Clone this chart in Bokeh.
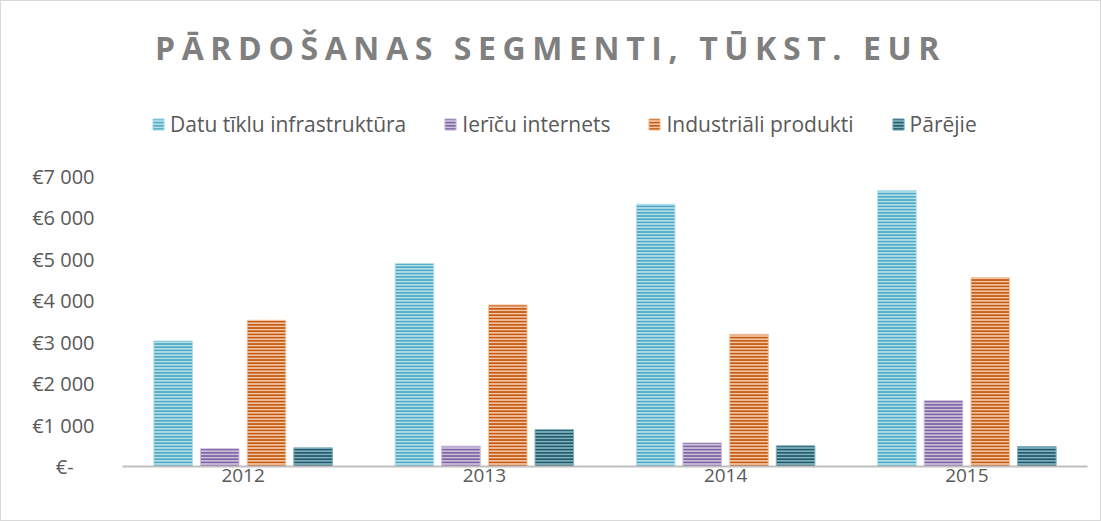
from bokeh.plotting import figure
from bokeh.models import ColumnDataSource, Legend, LegendItem, Div, CustomJSTickFormatter, Range1d, FactorRange
from bokeh.transform import dodge
from bokeh.layouts import column
from bokeh.embed import file_html
from bokeh.resources import INLINE

years = ["2012", "2013", "2014", "2015"]
datu = [3030, 4900, 6330, 6660]
ierices = [430, 490, 570, 1590]
industr = [3530, 3900, 3190, 4560]
parejie = [450, 890, 500, 480]
series_names = ["Datu tīklu infrastruktūra", "Ierīču internets", "Industriāli produkti", "Pārējie"]
y_ticks = [0, 1000, 2000, 3000, 4000, 5000, 6000, 7000]
title_text = "PĀRDOŠANAS SEGMENTI, TŪKST. EUR"

fills = ["#b4deea", "#cbbfdd", "#f5c4a0", "#7fb1bf"]
hatches = ["#48a8c2", "#7c609f", "#c0560f", "#1f5665"]

src = ColumnDataSource(dict(years=years, s0=datu, s1=ierices, s2=industr, s3=parejie))

FONT = "Open Sans"

div = Div(text='<div style="padding-top:27px;padding-left:30px;width:1069px;text-align:center;font-family:\'Open Sans\';'
               'font-weight:bold;font-size:32px;line-height:40px;color:#7f7f7f;letter-spacing:6.6px;">'
               + title_text + '</div>',
          width=1099, height=75, margin=0)

# frame spans from just under the title to the axis; the 0..7000 part fills the lower 290 px
p = figure(x_range=FactorRange(*years), y_range=Range1d(0, 9172),
           width=1099, height=444, output_backend="svg", toolbar_location=None,
           min_border_left=121, min_border_right=13, min_border_top=10, min_border_bottom=54,
           margin=0)

offsets = [-0.29, -0.097, 0.097, 0.29]
renderers = []
for i, off in enumerate(offsets):
    r = p.vbar(x=dodge("years", off, range=p.x_range), top="s%d" % i, width=0.16, source=src,
               fill_color=fills[i], line_color=fills[i], line_width=1,
               hatch_pattern="horizontal_line", hatch_color=hatches[i],
               hatch_scale=3.2, hatch_weight=1.9)
    renderers.append(r)

legend = Legend(items=[LegendItem(label=n, renderers=[r]) for n, r in zip(series_names, renderers)],
                orientation="horizontal", location=(29, 328),
                label_text_font=FONT, label_text_font_size="21px", label_text_color="#595959",
                glyph_width=14, glyph_height=14, spacing=37, label_standoff=5,
                border_line_color=None, background_fill_alpha=0, margin=0, padding=0)
p.add_layout(legend, "center")

p.xaxis.axis_line_color = "#bfbfbf"
p.xaxis.axis_line_width = 2
p.xaxis.major_tick_line_color = None
p.xaxis.minor_tick_line_color = None
p.xaxis.major_label_text_font = FONT
p.xaxis.major_label_text_font_size = "19px"
p.xaxis.major_label_text_color = "#595959"
p.xaxis.major_label_standoff = -4

p.yaxis.axis_line_color = None
p.yaxis.major_tick_line_color = None
p.yaxis.minor_tick_line_color = None
p.yaxis.major_label_text_font = FONT
p.yaxis.major_label_text_font_size = "20px"
p.yaxis.major_label_text_color = "#595959"
p.yaxis.major_label_standoff = 22
p.yaxis.ticker = y_ticks
p.yaxis.formatter = CustomJSTickFormatter(code="""
if (tick == 0) { return "€-    "; }
var s = Math.round(tick).toString();
return "€" + s.slice(0, s.length - 3) + " " + s.slice(s.length - 3);
""")

p.xgrid.grid_line_color = None
p.ygrid.grid_line_color = None
p.outline_line_color = None

layout = column(div, p, styles={"border": "1px solid #d9d9d9", "background": "white"})

open("out.html", "w").write(file_html(layout, INLINE))
